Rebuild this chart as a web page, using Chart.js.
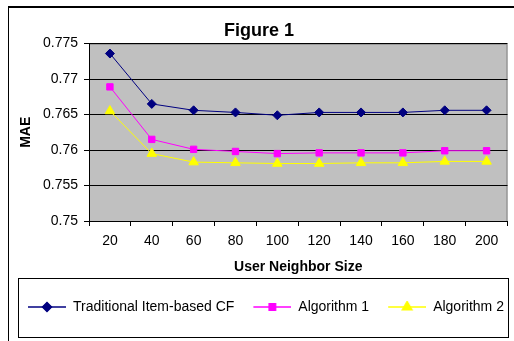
<!DOCTYPE html>
<html>
<head>
<meta charset="utf-8">
<script src="https://cdn.jsdelivr.net/npm/chart.js@4/dist/chart.umd.min.js"></script>
<style>
  body { margin: 0; background: #fff; }
  #frame { position: absolute; left: 8px; top: 6px; width: 520px; height: 345px; border: 1px solid #000; border-top-width: 2px; }
  canvas { display: block; }
</style>
</head>
<body>
<div id="frame"><canvas id="myChart" width="505" height="334"></canvas></div>
<script>
// data
const neighborSizes = ["20", "40", "60", "80", "100", "120", "140", "160", "180", "200"];
const traditionalCF = [0.7736, 0.7665, 0.7656, 0.7653, 0.7649, 0.7653, 0.7653, 0.7653, 0.7656, 0.7656];
const algorithm1 = [0.7689, 0.7615, 0.7601, 0.7598, 0.7595, 0.7596, 0.7596, 0.7596, 0.7599, 0.7599];
const algorithm2 = [0.7655, 0.7595, 0.7583, 0.7582, 0.7581, 0.7581, 0.7582, 0.7582, 0.7584, 0.7584];
const yTickLabels = ["0.75", "0.755", "0.76", "0.765", "0.77", "0.775"];

const FONT = "Arial, 'Liberation Sans', sans-serif";
const ICON_GAP = 17; // empty room left of each legend line

// little line + marker picture for the legend
function legendIcon(color, style, radius) {
  let c = document.createElement("canvas");
  c.width = ICON_GAP + 38;
  c.height = 12;
  let ctx = c.getContext("2d");
  ctx.strokeStyle = color;
  ctx.lineWidth = 1.5;
  ctx.beginPath();
  ctx.moveTo(ICON_GAP, 6);
  ctx.lineTo(ICON_GAP + 38, 6);
  ctx.stroke();
  ctx.fillStyle = color;
  Chart.helpers.drawPoint(ctx, { pointStyle: style, radius: radius, rotation: 0, borderWidth: 1 }, ICON_GAP + 19, 6);
  ctx.fill();
  return c;
}

const plotBackground = {
  id: "plotBackground",
  beforeDraw(chart) {
    let { ctx, chartArea } = chart;
    ctx.save();
    ctx.fillStyle = "#c0c0c0";
    ctx.fillRect(chartArea.left, chartArea.top, chartArea.right - chartArea.left, chartArea.bottom - chartArea.top);
    ctx.strokeStyle = "#808080";
    ctx.lineWidth = 1;
    ctx.beginPath();
    ctx.moveTo(chartArea.left, chartArea.top + 0.5);
    ctx.lineTo(chartArea.right - 0.5, chartArea.top + 0.5);
    ctx.lineTo(chartArea.right - 0.5, chartArea.bottom);
    ctx.stroke();
    ctx.restore();
  },
  afterDraw(chart) {
    // box round the legend, centred on the legend row
    let l = chart.legend;
    let hb = l.legendHitBoxes[0];
    let cy = Math.round(hb.top + hb.height / 2);
    let ctx = chart.ctx;
    ctx.save();
    ctx.strokeStyle = "#000";
    ctx.lineWidth = 1;
    ctx.strokeRect(l.left + 9.5, cy - 28.5, l.width - 10, 59);
    ctx.restore();
  }
};

const series = [
  { label: "Traditional Item-based CF", data: traditionalCF, color: "#000080", style: "rectRot", r: 4.5 },
  { label: "Algorithm 1", data: algorithm1, color: "#ff00ff", style: "rect", r: 4.5 },
  { label: "Algorithm 2", data: algorithm2, color: "#ffff00", style: "triangle", r: 5.5 }
];

new Chart(document.getElementById("myChart").getContext("2d"), {
  type: "line",
  data: {
    labels: neighborSizes,
    datasets: series.map((s) => ({
      label: s.label,
      data: s.data,
      borderColor: s.color,
      backgroundColor: s.color,
      borderWidth: 1,
      pointStyle: s.style,
      pointRadius: s.r,
      pointHoverRadius: s.r,
      pointBorderWidth: 1,
      tension: 0
    }))
  },
  options: {
    responsive: false,
    animation: false,
    layout: { padding: { left: 0, right: 5, top: 0, bottom: 18 } },
    plugins: {
      tooltip: { enabled: false },
      title: {
        display: true,
        text: "Figure 1",
        color: "#000",
        font: { family: FONT, size: 18, weight: "bold" },
        padding: { top: 12, bottom: 2 }
      },
      legend: {
        position: "bottom",
        align: "start",
        labels: {
          color: "#000",
          font: { family: FONT, size: 14 },
          usePointStyle: true,
          pointStyleWidth: ICON_GAP + 38,
          padding: 2,
          generateLabels: (chart) => series.map((s, i) => ({
            text: s.label,
            datasetIndex: i,
            pointStyle: legendIcon(s.color, s.style, s.r),
            fontColor: "#000",
            lineWidth: 0
          }))
        }
      }
    },
    scales: {
      x: {
        offset: true,
        grid: { offset: true, drawOnChartArea: false, color: "#000", tickLength: 5 },
        border: { color: "#000" },
        ticks: { color: "#000", font: { family: FONT, size: 14 }, padding: 7, maxRotation: 0 },
        title: {
          display: true,
          text: "User Neighbor Size",
          color: "#000",
          font: { family: FONT, size: 14, weight: "bold" },
          padding: { top: 8, bottom: 22 }
        },
        afterFit: (s) => { s.height = 77; }
      },
      y: {
        min: 0.75,
        max: 0.775,
        ticks: {
          stepSize: 0.005,
          color: "#000",
          font: { family: FONT, size: 14 },
          padding: 6,
          callback: (v, i) => yTickLabels[i]
        },
        grid: { color: "#000", tickLength: 5 },
        border: { color: "#000" },
        title: {
          display: true,
          text: "MAE",
          color: "#000",
          font: { family: FONT, size: 14, weight: "bold" },
          padding: { top: 9, bottom: 0 }
        },
        afterFit: (s) => { s.width = 80; }
      }
    }
  },
  plugins: [plotBackground]
});
</script>
</body>
</html>
